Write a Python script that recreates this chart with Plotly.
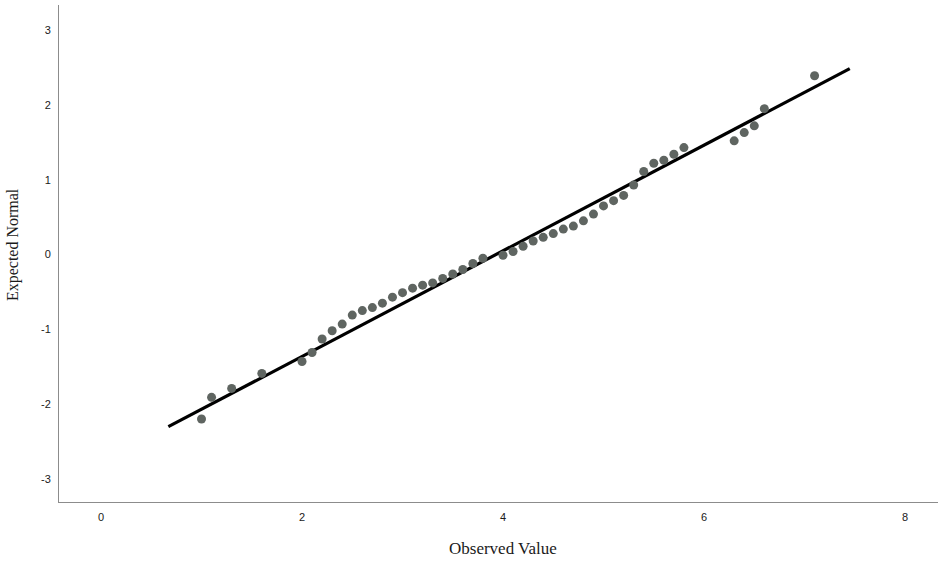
import plotly.graph_objects as go

# Observed values (x) and expected normal quantiles (y)
observed = [1.0, 1.1, 1.3, 1.6, 2.0, 2.1, 2.2, 2.3, 2.4, 2.5, 2.6, 2.7, 2.8, 2.9,
            3.0, 3.1, 3.2, 3.3, 3.4, 3.5, 3.6, 3.7, 3.8, 4.0, 4.1, 4.2, 4.3, 4.4,
            4.5, 4.6, 4.7, 4.8, 4.9, 5.0, 5.1, 5.2, 5.3, 5.4, 5.5, 5.6, 5.7, 5.8,
            6.3, 6.4, 6.5, 6.6, 7.1]
expected = [-2.20, -1.91, -1.79, -1.59, -1.43, -1.31, -1.13, -1.02, -0.93, -0.81,
            -0.75, -0.71, -0.65, -0.57, -0.51, -0.45, -0.41, -0.38, -0.32, -0.26,
            -0.20, -0.12, -0.05, -0.01, 0.04, 0.11, 0.18, 0.23, 0.28, 0.34, 0.38,
            0.45, 0.54, 0.65, 0.72, 0.79, 0.93, 1.11, 1.22, 1.26, 1.34, 1.43,
            1.52, 1.63, 1.72, 1.95, 2.39]

# Reference line: expected = (observed - mean) / sd
mean_val = 3.93
sd_val = 1.416
line_x = [0.67, 7.45]
line_y = [(v - mean_val) / sd_val for v in line_x]

x_ticks = [0, 2, 4, 6, 8]
y_ticks = [-3, -2, -1, 0, 1, 2, 3]
y_tick_text = ["-3", "-2", "-1", "0", "1", "2", "3"]

serif = "Liberation Serif, Times New Roman, serif"

fig = go.Figure()
fig.add_trace(go.Scatter(x=line_x, y=line_y, mode="lines",
                         line=dict(color="black", width=3.2), hoverinfo="skip",
                         showlegend=False))
fig.add_trace(go.Scatter(x=observed, y=expected, mode="markers",
                         marker=dict(color="#5f6561", size=9, line=dict(width=0)),
                         showlegend=False))

fig.update_layout(
    width=938, height=562,
    margin=dict(l=59, r=0, t=5, b=60),
    plot_bgcolor="white", paper_bgcolor="white",
    font=dict(family="Liberation Sans, Arial, sans-serif", size=11, color="#1a1a1a"),
    xaxis=dict(range=[-0.418, 8.328], tickvals=x_ticks, showgrid=False,
               zeroline=False, showline=True, linecolor="#8c8c8c", linewidth=1,
               ticks="", ticklabelstandoff=5),
    yaxis=dict(range=[-3.309, 3.336], tickvals=y_ticks, ticktext=y_tick_text,
               showgrid=False, zeroline=False, showline=True, linecolor="#8c8c8c",
               linewidth=1, ticks="", ticklabelstandoff=5),
    annotations=[
        dict(text="Observed Value", xref="x", yref="paper", x=4.0, y=-0.0926,
             xanchor="center", yanchor="middle", showarrow=False,
             font=dict(family=serif, size=17, color="#1a1a1a")),
        dict(text="Expected Normal", xref="paper", yref="paper", x=-0.0523, y=0.517,
             xanchor="center", yanchor="middle", textangle=-90, showarrow=False,
             font=dict(family=serif, size=16, color="#1a1a1a")),
    ],
)

fig.write_html("out.html")
